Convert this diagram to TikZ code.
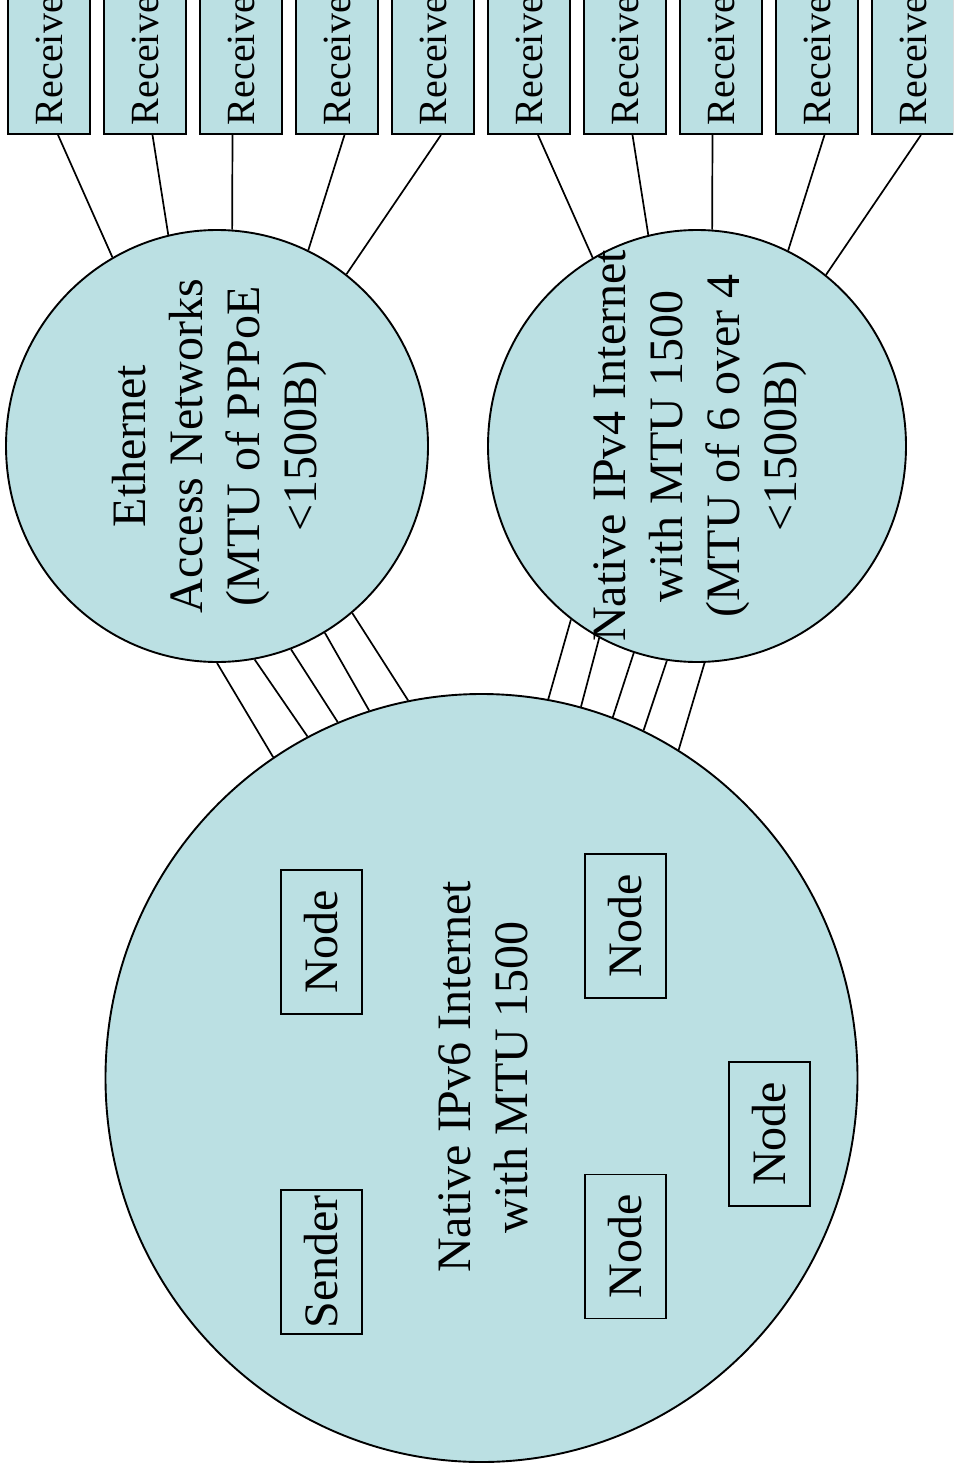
\documentclass[tikz,border=0pt]{standalone}
\usepackage{fontspec}
\setmainfont{Liberation Serif}
\usetikzlibrary{shapes.geometric,calc}
\definecolor{netfill}{RGB}{187,224,227}
\begin{document}
\begin{tikzpicture}[x=1pt,y=-1pt,
  net/.style={ellipse,draw,fill=netfill,line width=1.9pt,inner sep=0pt},
  lbl/.style={rotate=90,align=center,font=\fontsize{48}{57}\selectfont,inner sep=0pt},
  hostbox/.style={rectangle,draw,line width=1.9pt,rotate=90,minimum width=144pt,minimum height=81pt,font=\fontsize{48}{57}\selectfont,inner sep=0pt},
  recv/.style={rectangle,draw,fill=netfill,line width=1.9pt,rotate=90,minimum width=160pt,minimum height=82pt,font=\fontsize{40}{48}\selectfont,inner sep=0pt},
  link/.style={line width=1.7pt}
]
\useasboundingbox (0,0) rectangle (953,1474);
\clip (0,0) rectangle (953,1474);

% networks
\node[net,minimum width=752pt,minimum height=768pt] (v6) at (481.5,1078) {};
\node[net,minimum width=422pt,minimum height=432pt] (eth) at (217,446) {};
\node[net,minimum width=418pt,minimum height=432pt] (v4) at (697,446) {};

% receivers
\foreach \i in {0,...,9}
  \node[recv] (r\i) at ({49+96*\i},54) {Receiver};

% links between networks
\foreach \a/\b in {270/123.2, 280.6/117.8, 290.5/112.5, 300/107.1, 309.5/101.6}
  \draw[link] (eth.\a) -- (v6.\b);
\foreach \a/\b in {234.1/80.95, 243.9/75.6, 253.3/70.3, 262.8/65, 272.6/59.5}
  \draw[link] (v4.\a) -- (v6.\b);

% links to receivers
\foreach \i/\o/\a in {0/9/119, 1/7.5/103.7, 2/-8.5/86.3, 3/7.5/65.4, 4/8/53.9}
  \draw[link] ($(r\i.west)+(\o,0)$) -- (eth.\a);
\foreach \i/\o/\a in {5/9/119, 6/7.5/103.7, 7/-8.5/86.3, 8/7.5/65.4, 9/8/53.9}
  \draw[link] ($(r\i.west)+(\o,0)$) -- (v4.\a);

% labels
\node[lbl] (ethtxt) at (219,446) {Ethernet\\Access Networks\\(MTU of PPPoE\\<1500B)};
\node[lbl] (v4txt) at (700,446) {Native IPv4 Internet\\with MTU 1500\\(MTU of 6 over 4\\<1500B)};
\node[lbl] (v6txt) at (483,1077) {Native IPv6 Internet\\with MTU 1500};

% hosts
\node[hostbox] (n1) at (321.5,942) {Node};
\node[hostbox] (snd) at (321.5,1262) {Sender};
\node[hostbox] (n2) at (625.5,926) {Node};
\node[hostbox] (n3) at (625.5,1246.5) {Node};
\node[hostbox] (n4) at (769.5,1134) {Node};
\end{tikzpicture}
\end{document}
